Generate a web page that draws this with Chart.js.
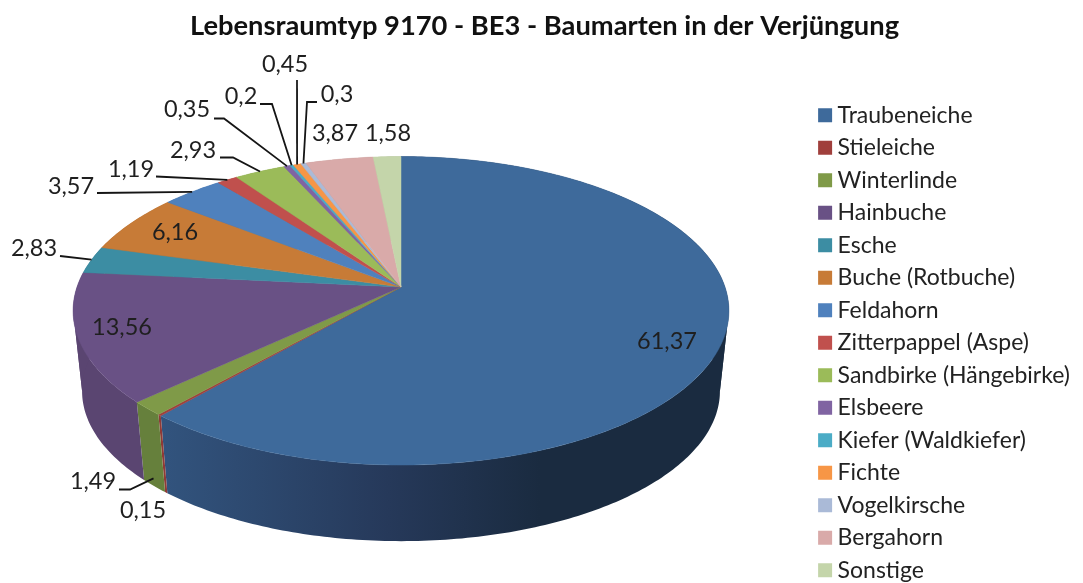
<!DOCTYPE html>
<html>
<head>
<meta charset="utf-8">
<script src="https://cdn.jsdelivr.net/npm/chart.js@4"></script>
<style>
  html, body { margin: 0; background: #fff; }
  canvas { display: block; }
</style>
</head>
<body>
<canvas id="myChart" width="1083" height="583"></canvas>
<script>
const chartTitle = 'Lebensraumtyp 9170 - BE3 - Baumarten in der Verjüngung';
const categories = ['Traubeneiche', 'Stieleiche', 'Winterlinde', 'Hainbuche', 'Esche', 'Buche (Rotbuche)', 'Feldahorn',
    'Zitterpappel (Aspe)', 'Sandbirke (Hängebirke)', 'Elsbeere', 'Kiefer (Waldkiefer)', 'Fichte', 'Vogelkirsche', 'Bergahorn', 'Sonstige'];
const values = [61.37, 0.15, 1.49, 13.56, 2.83, 6.16, 3.57, 1.19, 2.93, 0.35, 0.2, 0.45, 0.3, 3.87, 1.58];

const sliceColors = ['#3e6a9b', '#a03f3c', '#7f9a48', '#695185', '#3c8da3', '#c77b37', '#4f81bd',
    '#c0504d', '#9bbb59', '#8064a2', '#4bacc6', '#f79646', '#aabad7', '#d9aaa9', '#c4d5aa'];
const wallColors = ['#26395a', '#8f3a37', '#66803c', '#5a4571', '#30707f', '#a0622b', '#3f6797',
    '#9a403d', '#7c9647', '#665082', '#3c8a9e', '#c67838', '#8895ac', '#ae8887', '#9daa88'];

// text centre of each value label, and the bend of its leader line if it has one
const labelSpots = [[667, 341], [143, 510], [93, 481], [122, 327], [34, 248], [175, 232], [71, 186],
    [131, 169], [193, 150], [187, 109], [241, 96], [285, 64], [337, 94], [335, 133], [388, 133]];
const leaders = {
    2: { from: [119, 489.5], bend: [130, 489.5], depth: 0.9 },
    4: { from: [60, 256] },
    6: { from: [97, 193] },
    7: { from: [156, 176.5] },
    8: { from: [220, 157.5], bend: [233, 157.5] },
    9: { from: [214, 118.5], bend: [224, 118.5] },
    10: { from: [260, 104], bend: [272, 104] },
    11: { from: [297, 80] },
    12: { from: [317, 102], bend: [307, 102] }
};

// tilted disc seen in perspective, the pie angles come from the chart's own arcs
const view = { cx: 401, cy: 287, w: 324, h: 150.6, k: 0.154, drop: 81, shrink: 0.0274 };
// the wall outline turns round at these angles
const foldAngles = [Math.asin(view.k), Math.PI - Math.asin(view.k)];

function project(angle, depth) {
    const u = Math.cos(angle), v = Math.sin(angle);
    const d = 1 - view.k * v;
    const s = 1 - depth * view.shrink;
    return [view.cx + s * view.w * u / d, view.cy + depth * view.drop + s * view.h * v / d];
}

function rimPoints(from, to, depth) {
    const pts = [];
    const n = Math.max(2, Math.ceil((to - from) / 0.015));
    for (let i = 0; i <= n; i++) {
        pts.push(project(from + (to - from) * i / n, depth));
    }
    return pts;
}

function tracePath(ctx, pts) {
    ctx.beginPath();
    pts.forEach((p, i) => i ? ctx.lineTo(p[0], p[1]) : ctx.moveTo(p[0], p[1]));
    ctx.closePath();
}

const pie3d = {
    id: 'pie3d',
    afterLayout(chart) {
        // last legend row sits at the very bottom, give the box room so it does not start a second column
        chart.legend.top += 26;
        chart.legend.bottom += 40;
    },
    beforeDatasetDraw() {
        return false;
    },
    afterDatasetsDraw(chart) {
        const ctx = chart.ctx;
        const arcs = chart.getDatasetMeta(0).data;
        ctx.save();

        // side walls first, the top faces cover whatever is at the back
        arcs.forEach((arc, i) => {
            let fill = wallColors[i];
            if (i === 0) {
                fill = ctx.createLinearGradient(160, 0, 540, 0);
                fill.addColorStop(0, '#32547e');
                fill.addColorStop(0.6, '#26395a');
                fill.addColorStop(1, '#1a2b40');
            }
            ctx.fillStyle = fill;
            // split at the folds, a single path would cancel itself out there
            const cuts = [arc.startAngle].concat(foldAngles.filter(a => a > arc.startAngle && a < arc.endAngle), arc.endAngle);
            for (let j = 0; j < cuts.length - 1; j++) {
                tracePath(ctx, rimPoints(cuts[j], cuts[j + 1], 0).concat(rimPoints(cuts[j], cuts[j + 1], 1).reverse()));
                ctx.fill();
            }
        });

        arcs.forEach((arc, i) => {
            tracePath(ctx, [[view.cx, view.cy]].concat(rimPoints(arc.startAngle, arc.endAngle, 0)));
            ctx.fillStyle = sliceColors[i];
            ctx.strokeStyle = sliceColors[i];
            ctx.lineWidth = 0.5;
            ctx.fill();
            ctx.stroke();
        });

        // leader lines end on the rim in the middle of their slice
        ctx.strokeStyle = '#151515';
        ctx.lineWidth = 1.8;
        Object.keys(leaders).forEach(key => {
            const l = leaders[key];
            const arc = arcs[key];
            const end = project((arc.startAngle + arc.endAngle) / 2, l.depth || 0);
            ctx.beginPath();
            ctx.moveTo(l.from[0], l.from[1]);
            if (l.bend) ctx.lineTo(l.bend[0], l.bend[1]);
            ctx.lineTo(end[0], end[1]);
            ctx.stroke();
        });

        ctx.fillStyle = '#1f1f1f';
        ctx.font = '23.5px Lato';
        ctx.textAlign = 'center';
        ctx.textBaseline = 'middle';
        values.forEach((value, i) => {
            ctx.fillText(String(value).replace('.', ','), labelSpots[i][0], labelSpots[i][1]);
        });
        ctx.restore();
    }
};

const config = {
    type: 'pie',
    data: {
        labels: categories,
        datasets: [{
            data: values,
            backgroundColor: sliceColors,
            borderWidth: 0
        }]
    },
    options: {
        responsive: false,
        animation: false,
        devicePixelRatio: 1,
        layout: {
            padding: { left: 9, right: 3 }
        },
        plugins: {
            title: {
                display: true,
                text: chartTitle,
                color: '#111',
                font: { family: 'Lato', size: 27.3, weight: 'bold' },
                padding: { top: 10, bottom: 25.6 }
            },
            legend: {
                position: 'right',
                align: 'start',
                fullSize: false,
                labels: {
                    color: '#222',
                    font: { family: 'Lato', size: 23 },
                    padding: 9.5,
                    boxWidth: 2,
                    boxHeight: 2,
                    generateLabels: chart => chart.data.labels.map((text, i) => ({
                        text: text,
                        fillStyle: sliceColors[i],
                        strokeStyle: sliceColors[i],
                        lineWidth: 12,
                        fontColor: '#222',
                        index: i
                    }))
                }
            },
            tooltip: { enabled: false }
        }
    },
    plugins: [pie3d]
};

const myChart = new Chart(document.getElementById('myChart'), config);
</script>
</body>
</html>
